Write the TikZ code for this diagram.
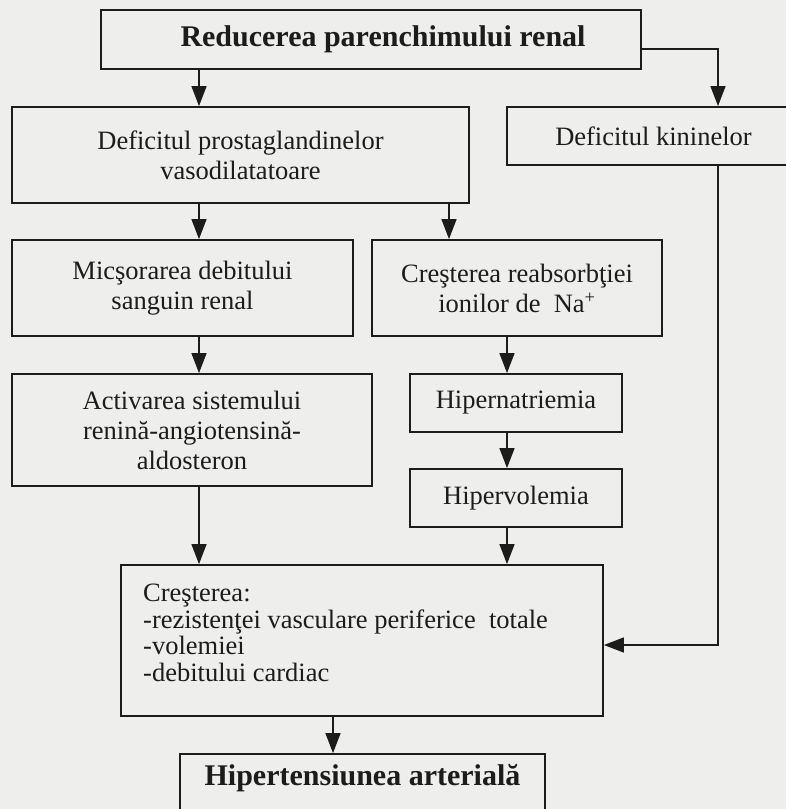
\documentclass[tikz,border=0pt]{standalone}
\usepackage{fontspec}
\setmainfont{Liberation Serif}
\usetikzlibrary{arrows.meta}
\definecolor{ink}{RGB}{28,28,28}
\definecolor{paper}{RGB}{238,238,236}
\begin{document}
\lineskiplimit=-30pt\relax
\begin{tikzpicture}[x=1pt,y=-1pt,
  frame/.style={draw=ink, line width=1.8pt, inner sep=0pt, text=ink,
    font=\fontsize{26.5}{30}\selectfont, align=center},
  btext/.style={inner sep=0pt, text=ink, font=\fontsize{30}{34}\bfseries\selectfont},
  ltext/.style={inner sep=0pt, text=ink,
    font=\fontsize{26.5}{26.6}\selectfont, align=left},
  conn/.style={draw=ink, line width=1.4pt, -{Triangle[length=20pt,width=15pt]}}]
\fill[paper] (0,0) rectangle (786,809);
\useasboundingbox (0,0) rectangle (786,809);
\clip (0,0) rectangle (786,809);

% boxes
\node[frame, minimum width=540pt, minimum height=59pt] (top) at (371,39.5) {};
\node[btext] (toptxt) at (383,39.5) {Reducerea parenchimului renal};
\node[frame, minimum width=457pt, minimum height=96pt] (prost) at (240.5,155)
  {Deficitul prostaglandinelor\\vasodilatatoare};
\node[frame, minimum width=293pt, minimum height=58pt] (kin) at (653.5,136)
  {Deficitul kininelor};
\node[frame, minimum width=341pt, minimum height=96pt] (mic) at (182.5,288)
  {Micşorarea debitului\\sanguin renal};
\node[frame, minimum width=290pt, minimum height=96pt] (reab) at (517,288)
  {Creşterea reabsorbţiei\\ionilor de\ \ Na\textsuperscript{+}};
\node[frame, minimum width=360pt, minimum height=112pt] (act) at (192,430)
  {Activarea sistemului\\renină-angiotensină-\\aldosteron};
\node[frame, minimum width=212pt, minimum height=58pt] (hna) at (516,403)
  {Hipernatriemia};
\node[frame, minimum width=212pt, minimum height=58pt] (hvo) at (516,498)
  {Hipervolemia};
\node[frame, minimum width=482pt, minimum height=151pt] (cre) at (362,640.5) {};
\node[ltext, anchor=north west] (cretxt) at (143,584)
  {Creşterea:\\-rezistenţei vasculare periferice\ \ totale\\-volemiei\\-debitului cardiac};
\node[frame, minimum width=365pt, minimum height=80pt] (hyp) at (362.5,794) {};
\node[btext] (hyptxt) at (362.5,778) {Hipertensiunea arterială};

% x positions of connectors
\coordinate (xa) at (199,0);
\coordinate (xb) at (449,0);
\coordinate (xc) at (507,0);
\coordinate (xd) at (333,0);
\coordinate (xr) at (718,0);

% connectors
\draw[conn] (xa |- top.south) -- (xa |- prost.north);
\draw[conn] ([yshift=21pt]top.south east) -| (xr |- kin.north);
\draw[conn] (xa |- prost.south) -- (xa |- mic.north);
\draw[conn] (xb |- prost.south) -- (xb |- reab.north);
\draw[conn] (xa |- mic.south) -- (xa |- act.north);
\draw[conn] (xc |- reab.south) -- (xc |- hna.north);
\draw[conn] (xc |- hna.south) -- (xc |- hvo.north);
\draw[conn] (xa |- act.south) -- (xa |- cre.north);
\draw[conn] (xc |- hvo.south) -- (xc |- cre.north);
\draw[conn] (xr |- kin.south) |- ([yshift=-4.5pt]cre.east);
\draw[conn] (xd |- cre.south) -- (xd |- hyp.north);
\end{tikzpicture}
\end{document}
